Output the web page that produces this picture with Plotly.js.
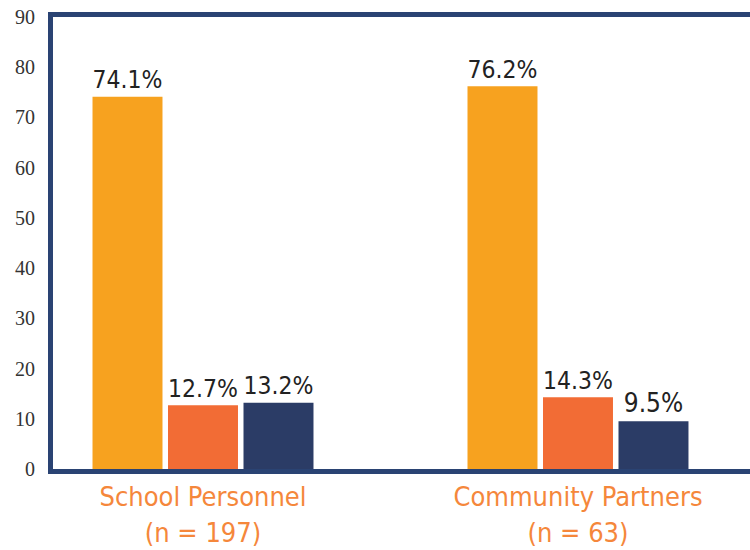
<!DOCTYPE html>
<html>
<head>
<meta charset="utf-8">
<script src="https://cdn.plot.ly/plotly-3.0.1.min.js"></script>
<style>
  html, body { margin: 0; padding: 0; background: #fff; }
  #chart { width: 750px; height: 550px; }
</style>
</head>
<body>
<div id="chart"></div>
<script>
// groups on the x axis
let groups = ['School Personnel<br>(n = 197)', 'Community Partners<br>(n = 63)'];

// three series, one bar per group each
let seriesA = [74.1, 76.2];
let seriesB = [12.7, 14.3];
let seriesC = [13.2, 9.5];

let yTicks = [0, 10, 20, 30, 40, 50, 60, 70, 80, 90];

let colA = '#F7A21F';
let colB = '#F26C35';
let colC = '#2B3C66';
let frame = '#2A4373';

function makeBar(vals, col){
    return {
        type: 'bar',
        x: groups,
        y: vals,
        marker: {color: col},
        text: vals.map(v => v.toFixed(1) + '%'),
        textposition: 'outside',
        cliponaxis: false,
        textfont: {family: 'Liberation Sans Narrow, DejaVu Sans Condensed, sans-serif', size: 26, color: '#222'},
        hoverinfo: 'none'
    };
}

let data = [makeBar(seriesA, colA), makeBar(seriesB, colB), makeBar(seriesC, colC)];

let layout = {
    width: 750,
    height: 550,
    margin: {l: 53, r: 0, t: 17, b: 81, pad: 0},
    paper_bgcolor: '#fff',
    plot_bgcolor: '#fff',
    showlegend: false,
    barmode: 'group',
    bargap: 0.396,
    bargroupgap: 0.073,
    xaxis: {
        type: 'category',
        range: [-0.4, 1.4587],
        showline: true,
        mirror: true,
        linecolor: frame,
        linewidth: 5,
        showgrid: false,
        zeroline: false,
        ticks: '',
        tickfont: {family: 'Liberation Sans Narrow, DejaVu Sans Condensed, sans-serif', size: 27, color: '#F5873B'}
    },
    yaxis: {
        range: [0, 90],
        tickvals: yTicks,
        ticktext: yTicks.map(String),
        showline: true,
        linecolor: frame,
        linewidth: 5,
        showgrid: false,
        zeroline: false,
        ticks: 'outside',
        ticklen: 9,
        tickcolor: 'rgba(0,0,0,0)',
        tickfont: {family: 'Liberation Serif, DejaVu Serif, serif', size: 20, color: '#333'}
    }
};

Plotly.newPlot('chart', data, layout, {displayModeBar: false, staticPlot: true});
</script>
</body>
</html>
